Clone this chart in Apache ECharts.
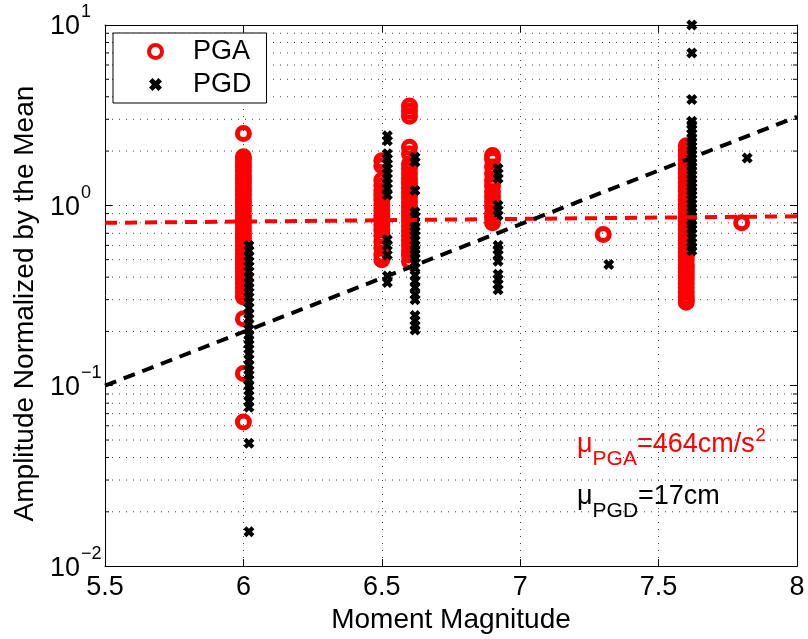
<!DOCTYPE html>
<html><head><meta charset="utf-8">
<script src="https://cdn.jsdelivr.net/npm/echarts@6/dist/echarts.min.js"></script>
<style>html,body{margin:0;padding:0;background:#fff}#c{width:808px;height:639px}</style>
</head><body><div id="c"></div>
<script>
const FONT = '"Liberation Sans", Arial, Helvetica, sans-serif';

// Axis ticks
const xTicks = [5.5, 6, 6.5, 7, 7.5, 8];
const yTicks = [0.01, 0.1, 1, 10];
const minorGrid = [0.02,0.03,0.04,0.05,0.06,0.07,0.08,0.09,
                   0.2,0.3,0.4,0.5,0.6,0.7,0.8,0.9,
                   2,3,4,5,6,7,8,9];

// PGA (normalized) per earthquake magnitude
const pgaMagnitudes = [6.0, 6.5, 6.6, 6.9, 7.3, 7.6, 7.8];
const pgaM60 = [2.5,1.86,1.8,1.72,1.63,1.55,1.47,1.4,1.33,1.26,1.2,1.14,1.08,1.03,0.98,0.93,0.88,0.84,0.8,0.76,0.72,0.69,0.66,0.63,0.6,0.57,0.54,0.51,0.49,0.47,0.45,0.43,0.41,0.39,0.37,0.35,0.33,0.31,0.235,0.117,0.063];
const pgaM65 = [1.77,1.66,1.38,1.29,1.21,1.14,1.07,1.0,0.94,0.88,0.83,0.78,0.73,0.68,0.63,0.58,0.53,0.5];
const pgaM66 = [3.55,3.33,3.12,2.1,1.93,1.7,1.6,1.5,1.41,1.33,1.25,1.18,1.11,1.04,0.98,0.92,0.87,0.82,0.77,0.72,0.68,0.64,0.6,0.56,0.53,0.49];
const pgaM69 = [1.89,1.8,1.63,1.5,1.38,1.28,1.19,1.12,1.05,0.98,0.9,0.85,0.8];
const pgaM73 = [0.69];
const pgaM76 = [2.14,2.02,1.9,1.8,1.7,1.6,1.51,1.42,1.34,1.27,1.2,1.13,1.07,1.01,0.96,0.91,0.86,0.82,0.78,0.74,0.7,0.67,0.64,0.61,0.58,0.55,0.52,0.5,0.47,0.45,0.43,0.41,0.39,0.37,0.35,0.33,0.31,0.3,0.29];
const pgaM78 = [0.8];
const pgaGroups = [pgaM60, pgaM65, pgaM66, pgaM69, pgaM73, pgaM76, pgaM78];

// PGD (normalized) per earthquake magnitude (plotted slightly offset)
const pgdMagnitudes = [6.02, 6.52, 6.62, 6.92, 7.32, 7.62, 7.82];
const pgdM60 = [0.6,0.56,0.52,0.49,0.46,0.43,0.4,0.37,0.35,0.33,0.31,0.29,0.27,0.25,0.235,0.22,0.205,0.19,0.18,0.17,0.16,0.15,0.14,0.13,0.122,0.115,0.108,0.1,0.094,0.088,0.082,0.076,0.048,0.0155];
const pgdM65 = [2.43,2.28,1.93,1.81,1.7,1.6,1.5,1.41,1.32,1.24,1.14,0.645,0.6,0.53,0.406,0.373];
const pgdM66 = [1.85,1.74,1.21,0.92,0.87,0.8,0.76,0.72,0.68,0.64,0.6,0.57,0.54,0.51,0.48,0.45,0.41,0.38,0.35,0.32,0.3,0.245,0.23,0.215,0.204];
const pgdM69 = [1.6,1.5,1.41,1.0,0.94,0.88,0.6,0.57,0.53,0.49,0.415,0.39,0.365,0.34];
const pgdM73 = [0.47];
const pgdM76 = [10,7.0,3.86,2.93,2.8,2.65,2.5,2.37,2.25,2.13,2.02,1.92,1.82,1.73,1.64,1.56,1.48,1.4,1.33,1.26,1.2,1.14,1.08,1.02,0.97,0.92,0.87,0.82,0.78,0.74,0.7,0.66,0.62,0.59,0.56];
const pgdM78 = [1.83];
const pgdGroups = [pgdM60, pgdM65, pgdM66, pgdM69, pgdM73, pgdM76, pgdM78];

// Fitted trend lines (endpoints)
const fitMagnitudes = [5.5, 8];
const pgaFit = [0.80, 0.87];
const pgdFit = [0.10, 3.10];

function toPairs(mags, groups) {
  const out = [];
  groups.forEach((g, i) => g.forEach(v => out.push([mags[i], v])));
  return out;
}
const pgaData = toPairs(pgaMagnitudes, pgaGroups);
const pgdData = toPairs(pgdMagnitudes, pgdGroups);
const pgaFitData = fitMagnitudes.map((m, i) => [m, pgaFit[i]]);
const pgdFitData = fitMagnitudes.map((m, i) => [m, pgdFit[i]]);

const xMin = xTicks[0], xMax = xTicks[xTicks.length - 1];
const yMin = yTicks[0], yMax = yTicks[yTicks.length - 1];
const GRID_DOT = { color: '#444', width: 1, type: [1, 6] };
const XMARK = 'path://M0,3 L3,0 L5.5,2.5 L8,0 L11,3 L8.5,5.5 L11,8 L8,11 L5.5,8.5 L3,11 L0,8 L2.5,5.5 Z';

const chart = echarts.init(document.getElementById('c'), null, { renderer: 'canvas' });
chart.setOption({
  animation: false,
  backgroundColor: '#fff',
  textStyle: { fontFamily: FONT },
  grid: { left: 105, right: 11, top: 25, bottom: 67, containLabel: false },
  legend: {
    data: [
      { name: 'PGA', itemStyle: { color: 'rgba(0,0,0,0)', borderColor: '#ff0000', borderWidth: 4 } },
      { name: 'PGD' }
    ],
    orient: 'vertical', left: 113, top: 33,
    backgroundColor: '#fff', borderColor: '#000', borderWidth: 1, borderRadius: 0,
    padding: [5, 15, 5, 34], itemGap: 6, itemWidth: 13, itemHeight: 13,
    textStyle: { fontFamily: FONT, fontSize: 27, color: '#000', padding: [0, 0, 0, 26] },
    selectedMode: false, z: 10
  },
  xAxis: [{
    type: 'value', min: xMin, max: xMax, interval: 0.5,
    name: 'Moment Magnitude', nameLocation: 'middle', nameGap: 38,
    nameTextStyle: { fontFamily: FONT, fontSize: 28, color: '#000' },
    axisLine: { show: true, onZero: false, lineStyle: { color: '#000', width: 1 } },
    axisTick: { show: true, inside: true, length: 7, lineStyle: { color: '#000' } },
    axisLabel: { fontFamily: FONT, fontSize: 27, color: '#000', margin: 8,
      formatter: v => String(v) },
    splitLine: { show: true, lineStyle: GRID_DOT }
  }, {
    type: 'value', position: 'top', min: xMin, max: xMax, interval: 0.5,
    axisLine: { show: true, onZero: false, lineStyle: { color: '#000', width: 1 } },
    axisTick: { show: true, inside: true, length: 7, lineStyle: { color: '#000' } },
    axisLabel: { show: false }, splitLine: { show: false }
  }],
  yAxis: [{
    type: 'log', logBase: 10, min: yMin, max: yMax,
    name: 'Amplitude Normalized by the Mean', nameLocation: 'middle', nameGap: 64,
    nameTextStyle: { fontFamily: FONT, fontSize: 28, color: '#000', padding: [0, 16, 0, 0] },
    axisLine: { show: true, onZero: false, lineStyle: { color: '#000', width: 1 } },
    axisTick: { show: true, inside: true, length: 7, lineStyle: { color: '#000' } },
    axisLabel: {
      align: 'left', margin: 55, color: '#000',
      formatter: v => {
        const e = Math.round(Math.log10(v));
        return '{b|10}{s|' + (e < 0 ? '\u2212' + (-e) : e) + '}';
      },
      rich: {
        b: { fontFamily: FONT, fontSize: 27, color: '#000', padding: [4, 0, 0, 0] },
        s: { fontFamily: FONT, fontSize: 18, color: '#000', padding: [0, 0, 25, 1] }
      }
    },
    splitLine: { show: true, lineStyle: GRID_DOT }
  }, {
    type: 'log', logBase: 10, min: yMin, max: yMax, position: 'right',
    axisLine: { show: true, onZero: false, lineStyle: { color: '#000', width: 1 } },
    axisTick: { show: true, inside: true, length: 7, lineStyle: { color: '#000' } },
    axisLabel: { show: false }, splitLine: { show: false }
  }],
  graphic: [{
    type: 'text', z: 20,
    style: {
      x: 577, y: 445, verticalAlign: 'middle', align: 'left',
      text: '{m|\u03bc}{sub|PGA}{m|=464cm/s}{sup|2}',
      rich: {
        m: { fontFamily: FONT, fontSize: 27, fill: '#ff0000' },
        sub: { fontFamily: FONT, fontSize: 21, fill: '#ff0000', padding: [29, 0, 0, 0] },
        sup: { fontFamily: FONT, fontSize: 18, fill: '#ff0000', padding: [0, 0, 18, 1] }
      }
    }
  }, {
    type: 'text', z: 20,
    style: {
      x: 577, y: 497, verticalAlign: 'middle', align: 'left',
      text: '{m|\u03bc}{sub|PGD}{m|=17cm}',
      rich: {
        m: { fontFamily: FONT, fontSize: 27, fill: '#000' },
        sub: { fontFamily: FONT, fontSize: 21, fill: '#000', padding: [28, 0, 0, 0] }
      }
    }
  }],
  series: [{
    type: 'custom', name: 'minorGrid', silent: true, z: 1,
    coordinateSystem: 'cartesian2d', xAxisIndex: 0, yAxisIndex: 0,
    data: minorGrid.map(v => [xMin, v]),
    renderItem: (params, api) => {
      const v = api.value(1);
      const p1 = api.coord([xMin, v]);
      const p2 = api.coord([xMax, v]);
      return { type: 'group', children: [
        { type: 'line', shape: { x1: p1[0], y1: p1[1], x2: p2[0], y2: p2[1] },
          style: { stroke: '#444', lineWidth: 1, lineDash: [1, 6] } },
        { type: 'line', shape: { x1: p1[0], y1: p1[1], x2: p1[0] + 4, y2: p1[1] },
          style: { stroke: '#000', lineWidth: 1 } },
        { type: 'line', shape: { x1: p2[0] - 4, y1: p2[1], x2: p2[0], y2: p2[1] },
          style: { stroke: '#000', lineWidth: 1 } }
      ]};
    }
  }, {
    type: 'scatter', name: 'PGA', z: 3, data: pgaData,
    symbol: 'circle', symbolSize: 12,
    itemStyle: { color: 'rgba(0,0,0,0)', borderColor: '#ff0000', borderWidth: 5, opacity: 1 }
  }, {
    type: 'scatter', name: 'PGD', z: 4, data: pgdData,
    symbol: XMARK, symbolSize: 11,
    itemStyle: { color: '#000', opacity: 1 }
  }, {
    type: 'line', name: 'PGA fit', z: 5, data: pgaFitData, symbol: 'none', silent: true,
    lineStyle: { color: '#ff0000', width: 4, type: [12, 8], cap: 'butt' }
  }, {
    type: 'line', name: 'PGD fit', z: 5, data: pgdFitData, symbol: 'none', silent: true,
    lineStyle: { color: '#000', width: 4, type: [12, 8], cap: 'butt' }
  }]
});
</script>
</body></html>
